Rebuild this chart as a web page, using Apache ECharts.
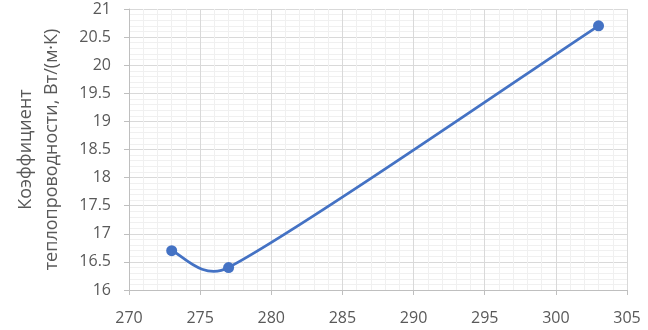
<!DOCTYPE html>
<html><head><meta charset="utf-8">
<script src="https://cdn.jsdelivr.net/npm/echarts@6/dist/echarts.min.js"></script>
<style>html,body{margin:0;padding:0;background:#fff}#c{width:648px;height:330px}</style>
</head><body><div id="c"></div>
<script>
const xValues = [273, 277, 303];
const yValues = [16.7, 16.4, 20.7];
const yAxisTitle = 'Коэффициент\nтеплопроводности, Вт/(м·К)';

const chart = echarts.init(document.getElementById('c'), null, {renderer: 'canvas'});
const txt = '#595959';
const font = '"Open Sans", "Noto Sans", sans-serif';
const lineColor = '#4472C4';
const points = xValues.map((x, i) => [x, yValues[i]]);

// Excel-style smoothed segment: Bezier control points from neighbours (pixel space)
function dist(a, b) { return Math.hypot(a[0] - b[0], a[1] - b[1]); }
function renderSegment(params, api) {
  const i = params.dataIndex;
  const n = points.length;
  if (i >= n - 1) return null;
  const P = points.map(p => api.coord(p));
  const p1 = P[i], p2 = P[i + 1];
  const p0 = i > 0 ? P[i - 1] : p1;
  const p3 = i + 2 < n ? P[i + 2] : p2;
  const f = 1 / 6;
  const d12 = dist(p1, p2), d02 = dist(p0, p2), d13 = dist(p1, p3);
  const a = (d02 * f < d12 / 2 || d02 === 0) ? f : d12 / (2 * d02);
  const b = (d13 * f < d12 / 2 || d13 === 0) ? f : d12 / (2 * d13);
  return {
    type: 'bezierCurve',
    shape: {
      x1: p1[0], y1: p1[1], x2: p2[0], y2: p2[1],
      cpx1: p1[0] + (p2[0] - p0[0]) * a, cpy1: p1[1] + (p2[1] - p0[1]) * a,
      cpx2: p2[0] - (p3[0] - p1[0]) * b, cpy2: p2[1] - (p3[1] - p1[1]) * b
    },
    style: {stroke: lineColor, lineWidth: 2.75, fill: null, lineCap: 'round'}
  };
}

chart.setOption({
  animation: false,
  grid: {left: 129, right: 21, top: 9, bottom: 40},
  xAxis: {
    type: 'value', min: 270, max: 305, interval: 5,
    axisLine: {show: true, lineStyle: {color: '#bfbfbf', width: 1}},
    axisTick: {show: true, length: 5, lineStyle: {color: '#bfbfbf'}},
    axisLabel: {color: txt, fontSize: 16, fontFamily: font, margin: 20},
    splitLine: {show: true, lineStyle: {color: '#d9d9d9', width: 1}},
    minorTick: {show: false, splitNumber: 5},
    minorSplitLine: {show: true, lineStyle: {color: '#f0f0f0', width: 1}}
  },
  yAxis: {
    type: 'value', min: 16, max: 21, interval: 0.5,
    name: yAxisTitle, nameLocation: 'middle', nameGap: 64, nameRotate: 90,
    nameTextStyle: {color: txt, fontSize: 18, fontFamily: font, lineHeight: 26},
    axisLine: {show: true, lineStyle: {color: '#bfbfbf', width: 1}},
    axisTick: {show: true, length: 5, lineStyle: {color: '#bfbfbf'}},
    axisLabel: {color: txt, fontSize: 16, fontFamily: font, margin: 18},
    splitLine: {show: true, lineStyle: {color: '#d9d9d9', width: 1}},
    minorTick: {show: false, splitNumber: 5},
    minorSplitLine: {show: true, lineStyle: {color: '#f0f0f0', width: 1}}
  },
  series: [{
    type: 'custom', renderItem: renderSegment, data: points,
    encode: {x: 0, y: 1}, clip: false, z: 2, silent: true
  }, {
    type: 'scatter', data: points, symbol: 'circle', symbolSize: 11,
    itemStyle: {color: lineColor, opacity: 1}, z: 3
  }]
});
</script></body></html>
